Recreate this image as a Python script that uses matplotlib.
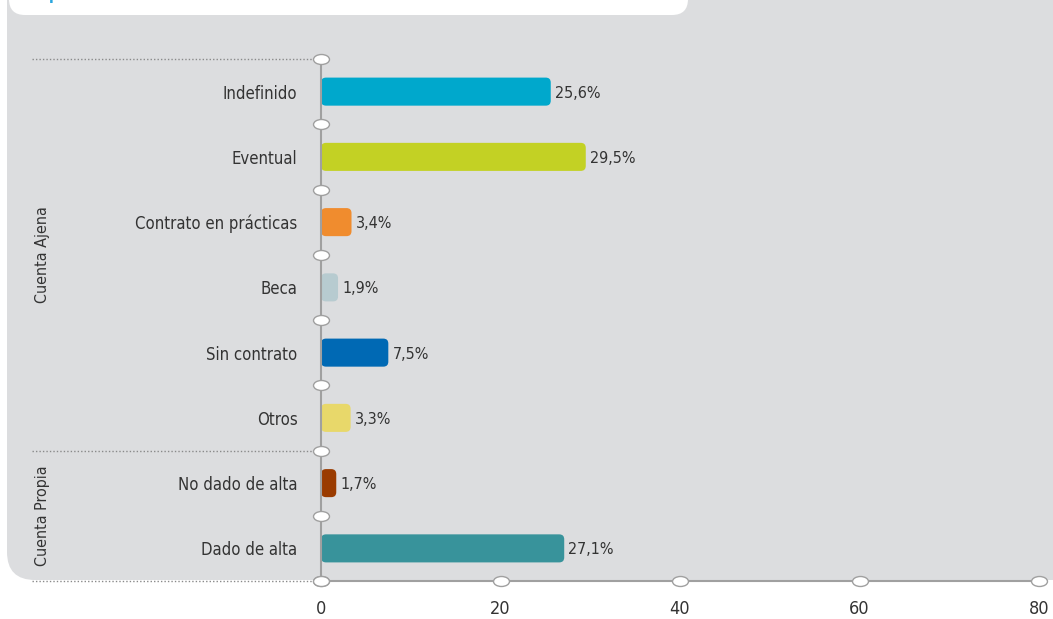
import matplotlib
matplotlib.use("Agg")
import matplotlib.pyplot as plt
import matplotlib.transforms as mtransforms
from matplotlib.patches import FancyBboxPatch
from matplotlib.path import Path
from matplotlib import font_manager
import numpy as np

categories = ["Indefinido", "Eventual", "Contrato en prácticas", "Beca",
              "Sin contrato", "Otros", "No dado de alta", "Dado de alta"]
values = [25.6, 29.5, 3.4, 1.9, 7.5, 3.3, 1.7, 27.1]
value_labels = ["25,6%", "29,5%", "3,4%", "1,9%", "7,5%", "3,3%", "1,7%", "27,1%"]
colors = ["#00a8cc", "#c3d124", "#f08c2e", "#b7cbd0",
          "#0069b4", "#e8d86a", "#9a3b00", "#38939b"]
groups = ["Cuenta Ajena", "Cuenta Propia"]
group_sizes = [6, 2]
xticks = [0, 20, 40, 60, 80]
title = "Tipo de contrato"

names = {f.name for f in font_manager.fontManager.ttflist}
print(sorted(names))
print(sorted({(f.name, f.stretch) for f in font_manager.fontManager.ttflist if 'DejaVu' in f.name or 'Liberation' in f.name}))
if "Liberation Sans Narrow" in names:
    FONT = ["Liberation Sans Narrow", "DejaVu Sans"]
    plt.rcParams["font.family"] = FONT
else:
    plt.rcParams["font.family"] = ["DejaVu Sans"]
    plt.rcParams["font.stretch"] = "condensed"

W, H = 1053, 619
fig = plt.figure(figsize=(W / 100, H / 100), dpi=100)
fig.patch.set_facecolor("white")
ident = mtransforms.IdentityTransform()

panel = FancyBboxPatch((7, H - 580), 1200, 800,
                       boxstyle="round,pad=0,rounding_size=28",
                       transform=ident, facecolor="#dcdddf", edgecolor="none",
                       zorder=-3)
fig.add_artist(panel)
tbox = FancyBboxPatch((9, H - 15), 688 - 9, 200,
                      boxstyle="round,pad=0,rounding_size=16",
                      transform=ident, facecolor="white", edgecolor="none",
                      zorder=-2)
fig.add_artist(tbox)
fig.text(24 / W, 1 + 3 / H, title, color="#2ba6de", fontsize=22,
         ha="left", va="baseline", zorder=-1)

left, right = 321 / W, 1039 / W
bottom, top = 1 - 581 / H, 1 - 59 / H
ax = fig.add_axes([left, bottom, right - left, top - bottom])
ax.set_facecolor("none")

n = len(categories)
ypos = np.arange(n) + 0.5
ax.set_xlim(0, 80)
ax.set_ylim(n, 0)

bw = 0.43
bbox_ax = ax.get_window_extent()
xu_per_px = 80 / bbox_ax.width
yu_per_px = n / bbox_ax.height
aspect = yu_per_px / xu_per_px
for y, v, c in zip(ypos, values, colors):
    rad = min(5 * xu_per_px, v / 2)
    p = FancyBboxPatch((0, y - bw / 2), v, bw,
                       boxstyle=f"round,pad=0,rounding_size={rad}",
                       mutation_aspect=aspect, facecolor=c, edgecolor="none",
                       zorder=2)
    ax.add_patch(p)

for y, v, lab in zip(ypos, values, value_labels):
    ax.annotate(lab, (v, y), xytext=(3, -1), textcoords="offset points",
                ha="left", va="center", fontsize=11.5, color="#333333")

for s in ["top", "right"]:
    ax.spines[s].set_visible(False)
for s in ["left", "bottom"]:
    ax.spines[s].set_color("#a0a0a0")
    ax.spines[s].set_linewidth(1.5)
ax.set_xticks(xticks)
ax.set_xticklabels([str(t) for t in xticks])
ax.set_yticks(ypos)
ax.set_yticklabels(categories)
ax.tick_params(axis="x", length=0, pad=14, labelsize=13, labelcolor="#333333")
ax.tick_params(axis="y", length=0, pad=17, labelsize=12, labelcolor="#333333")

circ = Path.unit_circle()
ell = Path(circ.vertices * np.array([1.6, 1.0]), circ.codes)
seps = np.arange(n + 1)
ax.plot(np.zeros(n + 1), seps, linestyle="none", marker=ell, markersize=11.5,
        markerfacecolor="white", markeredgecolor="#a0a0a0", markeredgewidth=1,
        clip_on=False, zorder=5)
ax.plot(xticks, [n] * len(xticks), linestyle="none", marker=ell, markersize=11.5,
        markerfacecolor="white", markeredgecolor="#a0a0a0", markeredgewidth=1,
        clip_on=False, zorder=5)

blend = mtransforms.blended_transform_factory(fig.transFigure, ax.transData)
bounds = np.concatenate([[0], np.cumsum(group_sizes)])
for b in bounds:
    ax.plot([32 / W, 318 / W], [b, b], transform=blend, color="#8a8a8a",
            linestyle=(0, (1, 1.5)), linewidth=1.0, clip_on=False, zorder=1)
for g, a, b in zip(groups, bounds[:-1], bounds[1:]):
    ax.text(42 / W, (a + b) / 2, g, transform=blend, rotation=90,
            ha="center", va="center", fontsize=11.5, color="#333333")

fig.savefig("out.png", dpi=100)
